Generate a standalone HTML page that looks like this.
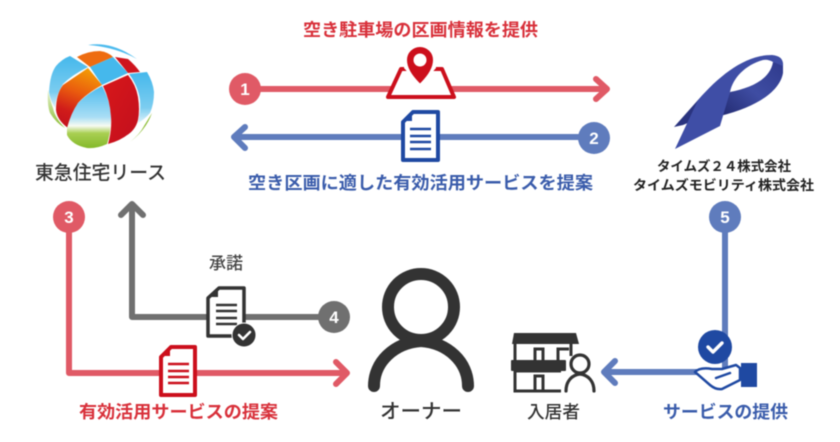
<!DOCTYPE html>
<html><head><meta charset="utf-8">
<style>
html,body{margin:0;padding:0;background:#fff;width:840px;height:442px;overflow:hidden}
svg{display:block;filter:blur(.4px)}
text{font-family:"Liberation Sans","Noto Sans CJK JP",sans-serif;}
</style></head>
<body>
<svg width="840" height="442" viewBox="0 0 840 442" xmlns="http://www.w3.org/2000/svg">
<defs>
<linearGradient id="bl" x1="0" y1="0" x2="0" y2="1"><stop offset="0" stop-color="#45b8ec"/><stop offset=".7" stop-color="#7ccdf0"/><stop offset="1" stop-color="#dff3fb"/></linearGradient>
<linearGradient id="bg" x1="0" y1="0" x2="0" y2="1"><stop offset="0" stop-color="#4dbbee"/><stop offset=".5" stop-color="#a9def5"/><stop offset=".64" stop-color="#f7fbf2"/><stop offset=".76" stop-color="#a9cf52"/><stop offset="1" stop-color="#84b92a"/></linearGradient>
<linearGradient id="or" x1=".6" y1="0" x2=".3" y2="1"><stop offset="0" stop-color="#f39a06"/><stop offset=".4" stop-color="#ea5c0e"/><stop offset=".75" stop-color="#d01c1a"/><stop offset="1" stop-color="#c4111d"/></linearGradient>
<linearGradient id="rd" x1="0" y1="0" x2="1" y2="1"><stop offset="0" stop-color="#d8181a"/><stop offset="1" stop-color="#c20f1e"/></linearGradient>
<linearGradient id="gr" x1="0" y1="0" x2="0" y2="1"><stop offset="0" stop-color="#e4f1cd"/><stop offset="1" stop-color="#8cbd34"/></linearGradient>
<linearGradient id="rb" x1="0" y1="1" x2="1" y2="0"><stop offset="0" stop-color="#222a70"/><stop offset=".5" stop-color="#3f4da3"/><stop offset="1" stop-color="#2f3a8c"/></linearGradient>
</defs>

<!-- globe -->
<path d="M88 45Q112 41 137 59Q115 47 88 45Z" fill="#4dbbee"/>
<path d="M77 57Q88 51 100 51Q108 52 113 57L90 67Z" fill="#ee6c10"/>
<path d="M115 57L128 59Q135 65 140 72L128 73Z" fill="#cf141d"/>
<path d="M90 67L113 57L128 73L102 85Z" fill="#45b8ec"/>
<path d="M49 92Q50 74 56 66Q62 59 70 56L88 67Q72 75 63 84Q56 95 55 108Q50 100 49 92Z" fill="url(#bl)"/>
<path d="M88 68L102 85Q86 94 78 103Q71 115 68 128Q57 120 56 110Q56 94 63 85Z" fill="url(#or)"/>
<path d="M102 86Q110 100 111 117Q111 132 107 144Q96 149 87 148Q72 145 67 135V128Q71 113 78 103Q88 93 102 86Z" fill="url(#bg)"/>
<path d="M103 86L128 75Q136 85 138 97Q140 110 138 120Q136 128 130 133Q120 141 108 144Q112 130 111 117Q110 100 103 86Z" fill="url(#rd)"/>
<path d="M129 74L147 72Q153 82 154 92Q154 104 150 113Q145 119 138 123Q141 110 140 100Q138 86 129 74Z" fill="url(#bl)"/>
<path d="M48 90Q47 105 50 113Q56 123 65 128Q55 118 53 108Q50 100 48 90Z" fill="url(#gr)"/>
<path d="M152 113Q146 130 130 142Q140 134 144 126Z" fill="#8cbd34"/>
<text x="35" y="179" font-size="19" font-weight="500" fill="#333" textLength="131" lengthAdjust="spacingAndGlyphs">東急住宅リース</text>

<!-- ribbon -->
<path d="M674 127L698 100L708 100L690 122L683 125Z" fill="#2a347f"/>
<path d="M783 63L783 73C780 90 760 106 720 116L730 92C750 88 770 80 773 62Z" fill="url(#rb)"/>
<path d="M675 149L698 100C720 75 745 55 772 55Q784 56 783 66L773 62Q768 59 763 60C745 65 733 78 730 92L720 126Z" fill="#3f4ea6"/>

<text x="657" y="171" font-size="13.5" font-weight="700" fill="#222" textLength="134" lengthAdjust="spacingAndGlyphs">タイムズ２４株式会社</text>
<text x="633" y="190" font-size="13.5" font-weight="700" fill="#222" textLength="181" lengthAdjust="spacingAndGlyphs">タイムズモビリティ株式会社</text>

<!-- arrow 1 -->
<g stroke="#e05a66" stroke-width="6" fill="none" stroke-linecap="round" stroke-linejoin="round">
<path d="M245 89H606"/><path d="M596 79L607 89L596 99"/>
</g>
<circle cx="245" cy="89" r="16" fill="#e05a66"/>
<text x="245" y="95" font-size="17" font-weight="700" fill="#fff" text-anchor="middle">1</text>
<path d="M401 69H442L454 97H388Z" fill="#fff" stroke="#cc0f1c" stroke-width="4" stroke-linejoin="round"/>
<path d="M420 86L404 68A15 15 0 1 1 436 68Z" fill="#fff"/>
<path d="M420 82Q408 70 408 60A12 12 0 0 1 432 60Q432 70 420 82Z" fill="#cc0f1c" stroke="#cc0f1c" stroke-width="2"/>
<circle cx="420" cy="60" r="6.5" fill="#fff"/>
<text x="303" y="36" font-size="17.5" font-weight="700" fill="#d8303a" textLength="235" lengthAdjust="spacingAndGlyphs">空き駐車場の区画情報を提供</text>

<!-- arrow 2 -->
<g stroke="#5f7cbd" stroke-width="6" fill="none" stroke-linecap="round" stroke-linejoin="round">
<path d="M594 137H235"/><path d="M245 127L234 137L245 148"/>
</g>
<circle cx="594" cy="138" r="16" fill="#5f7cbd"/>
<text x="594" y="144" font-size="17" font-weight="700" fill="#fff" text-anchor="middle">2</text>
<path d="M413 112H438V160H403V122Z" fill="#fff" stroke="#1f49a2" stroke-width="4" stroke-linejoin="round"/>
<path d="M402 121L412 111V121Z" fill="#1f49a2"/>
<path d="M410 129H431M410 136H431M410 142H431M410 149H431" stroke="#1f49a2" stroke-width="2.4"/>
<text x="248" y="189" font-size="17.5" font-weight="700" fill="#3a5cab" textLength="345" lengthAdjust="spacingAndGlyphs">空き区画に適した有効活用サービスを提案</text>

<!-- arrow 3 -->
<g stroke="#e05a66" stroke-width="6" fill="none" stroke-linecap="round" stroke-linejoin="round">
<path d="M69 217V373H346"/><path d="M336 362L347 373L336 384"/>
</g>
<circle cx="69" cy="217" r="16" fill="#e05a66"/>
<text x="69" y="223" font-size="17" font-weight="700" fill="#fff" text-anchor="middle">3</text>
<path d="M171 347H195V395H161V357Z" fill="#fff" stroke="#cc0f1c" stroke-width="4" stroke-linejoin="round"/>
<path d="M160 356L170 346V356Z" fill="#cc0f1c"/>
<path d="M168 364H189M168 371H189M168 377H189M168 383H189" stroke="#cc0f1c" stroke-width="2.4"/>
<text x="79" y="418" font-size="17.5" font-weight="700" fill="#d8303a" textLength="199" lengthAdjust="spacingAndGlyphs">有効活用サービスの提案</text>

<!-- arrow 4 -->
<g stroke="#707070" stroke-width="6" fill="none" stroke-linecap="round" stroke-linejoin="round">
<path d="M334 317H132V205"/><path d="M121 215L132 204L143 215"/>
</g>
<circle cx="334" cy="317" r="16" fill="#707070"/>
<text x="334" y="323" font-size="17" font-weight="700" fill="#fff" text-anchor="middle">4</text>
<path d="M219 288H244V336H208V298Z" fill="#fff" stroke="#333" stroke-width="3.5" stroke-linejoin="round"/>
<path d="M207 297L218 287V297Z" fill="#333"/>
<path d="M216 305H237M216 311H237M216 318H237M216 324H237" stroke="#333" stroke-width="2.4"/>
<circle cx="244" cy="335" r="12" fill="#333" stroke="#fff" stroke-width="1"/>
<path d="M239 335L243 339L250 332" fill="none" stroke="#fff" stroke-width="2.6" stroke-linecap="round" stroke-linejoin="round"/>
<text x="209" y="269" font-size="17" font-weight="500" fill="#444" textLength="34" lengthAdjust="spacingAndGlyphs">承諾</text>

<!-- owner -->
<g fill="none" stroke="#333" stroke-width="12" stroke-linecap="round">
<circle cx="421" cy="307" r="33"/>
<path d="M374 386C374 362 394 343 421 341C448 343 468 362 468 386"/>
</g>
<text x="380" y="418" font-size="20" font-weight="500" fill="#333" textLength="82" lengthAdjust="spacingAndGlyphs">オーナー</text>

<!-- building -->
<path d="M514 333H576L579 344H512Z" fill="#333"/>
<rect x="511" y="360" width="55" height="11" rx="1" fill="#333"/>
<path d="M515 344V391H561M571 344V356M515 371H561" fill="none" stroke="#333" stroke-width="3"/>
<path d="M535 360V349H543V360M558 360V349H569M535 391V376H543V391" fill="none" stroke="#333" stroke-width="3"/>
<circle cx="580" cy="364" r="9" fill="#fff" stroke="#333" stroke-width="3.2"/>
<path d="M566 391C566 381 572 375 580 374C588 375 594 381 594 391" fill="#fff" stroke="#333" stroke-width="3.2" stroke-linecap="round"/>
<text x="527" y="418" font-size="17.5" font-weight="500" fill="#333" textLength="53" lengthAdjust="spacingAndGlyphs">入居者</text>

<!-- arrow 5 -->
<g stroke="#5f7cbd" stroke-width="6" fill="none" stroke-linecap="round" stroke-linejoin="round">
<path d="M725 217V372H605"/><path d="M615 361L604 372L615 383"/>
</g>
<circle cx="725" cy="217" r="16" fill="#5f7cbd"/>
<text x="725" y="223" font-size="17" font-weight="700" fill="#fff" text-anchor="middle">5</text>
<circle cx="715" cy="347" r="17" fill="#1f49a2"/>
<path d="M708 347L713 352L722 343" fill="none" stroke="#fff" stroke-width="3.4" stroke-linecap="round" stroke-linejoin="round"/>
<path d="M695 372Q700 367 712 369H722L736 365L740 368V380L722 389Q716 390 710 385Z" fill="#fff" stroke="#1f49a2" stroke-width="2.5" stroke-linejoin="round"/>
<path d="M716 378L730 373" stroke="#1f49a2" stroke-width="2.5" stroke-linecap="round"/>
<rect x="741" y="363" width="16" height="24" fill="#1f49a2"/>
<text x="663" y="418" font-size="17.5" font-weight="700" fill="#3a5cab" textLength="125" lengthAdjust="spacingAndGlyphs">サービスの提供</text>
</svg>
</body></html>
